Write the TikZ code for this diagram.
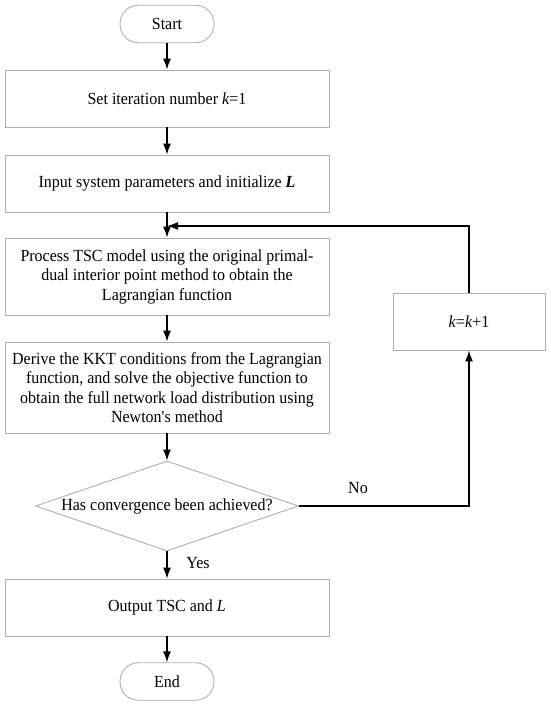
\documentclass[tikz,border=0pt]{standalone}
\usepackage{fontspec}
\setmainfont{Liberation Serif}[FakeStretch=0.94]
\usetikzlibrary{arrows.meta,shapes.geometric}
\begin{document}
\begin{tikzpicture}[x=1pt,y=-1pt,
  every node/.style={font=\fontsize{17}{19.5}\selectfont},
  proc/.style={draw=black!32, line width=0.9pt, rectangle, minimum width=324pt, inner sep=0pt, align=center},
  term/.style={draw=black!32, line width=0.9pt, rectangle, rounded corners=18.5pt, minimum width=94pt, minimum height=37.5pt, inner sep=0pt},
  dia/.style={draw=black!32, line width=0.9pt, diamond, minimum width=263pt, minimum height=90pt, inner sep=0pt},
  conn/.style={line width=1.2pt, black},
  arr/.style={conn, -{Latex[length=11pt,width=8pt]}},
  lbl/.style={inner sep=0pt}]
\useasboundingbox (0,0) rectangle (550,707);
\node[term] (start) at (167,24) {Start};
\node[proc, minimum height=57pt] (b1) at (167,98.5) {Set iteration number \textit{k}=1};
\node[proc, minimum height=57pt] (b2) at (167,183.5) {Input system parameters and initialize \textbf{\textit{L}}};
\node[proc, minimum height=77pt] (b3) at (167,276.5) {Process TSC model using the original primal-\\dual interior point method to obtain the\\Lagrangian function};
\node[proc, minimum height=91pt] (b4) at (167,387.5) {Derive the KKT conditions from the Lagrangian\\function, and solve the objective function to\\obtain the full network load distribution using\\Newton\textquotesingle s method};
\node[dia] (d) at (167,506) {};
\node[lbl] (dtext) at (d.center) {Has convergence been achieved?};
\node[proc, minimum height=57pt] (out) at (167,607.5) {Output TSC and \textit{L}};
\node[term] (end) at (167,681.5) {End};
\node[proc, minimum width=152pt, minimum height=57pt] (k) at (469,321.5) {\textit{k}=\textit{k}+1};
\coordinate (j) at (167,226);
\node[lbl] (yes) at (198,563) {Yes};
\node[lbl] (no) at (358,488) {No};
\draw[arr] (start) -- (b1);
\draw[arr] (b1) -- (b2);
\draw[arr] (b2) -- (b3);
\draw[arr] (b3) -- (b4);
\draw[arr] (b4) -- (d);
\draw[arr] (d) -- (out);
\draw[arr] (out) -- (end);
\draw[arr] (d.east) -| (k.south);
\draw[arr] (k.north) |- (j);
\end{tikzpicture}
\end{document}
